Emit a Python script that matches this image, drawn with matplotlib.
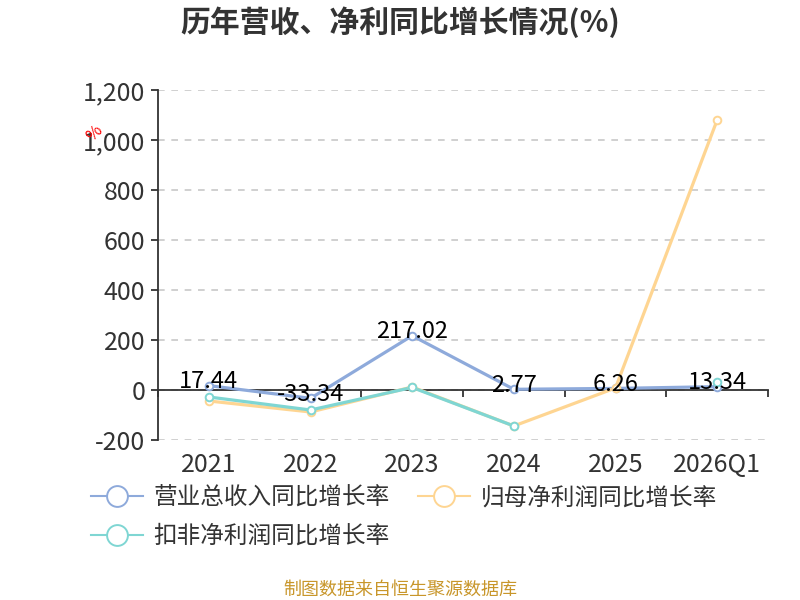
import matplotlib
matplotlib.use("Agg")
import matplotlib.pyplot as plt
import numpy as np

plt.rcParams['font.family'] = ['Noto Sans CJK SC', 'DejaVu Sans']

# ── data ─────────────────────────────────────────────────────────────────────
years = ["2021", "2022", "2023", "2024", "2025", "2026Q1"]
revenue_growth = [17.44, -33.34, 217.02, 2.77, 6.26, 13.34]
parent_profit_growth = [-44, -88, 12, -144, 8, 1080]
deducted_profit_growth = [-28, -80, 10, -144, np.nan, 32]

series_names = ["营业总收入同比增长率", "归母净利润同比增长率", "扣非净利润同比增长率"]
colors = ["#8eaadb", "#fed592", "#7fd6d3"]
yticks = [-200, 0, 200, 400, 600, 800, 1000, 1200]

fig = plt.figure(figsize=(8, 6), dpi=100)
ax = fig.add_axes([0.1975, 0.2667, 0.7625, 0.5833])

x = np.arange(len(years))
all_series = [revenue_growth, parent_profit_growth, deducted_profit_growth]
handles = []
for vals, color, name in zip(all_series, colors, series_names):
    y = np.array(vals, dtype=float)
    ax.plot(x, y, color=color, linewidth=2.3, zorder=3)
    ax.plot(x, y, linestyle="none", marker="o", markersize=5.5,
            markerfacecolor="white", markeredgecolor=color,
            markeredgewidth=1.4, zorder=4)
    h, = ax.plot([], [], color=color, linewidth=1.5, marker="o",
                 markersize=15, markerfacecolor="white",
                 markeredgecolor=color, markeredgewidth=1.4, label=name)
    handles.append(h)

for xi, v in zip(x, revenue_growth):
    ax.annotate(f"{v:.2f}", (xi, v), xytext=(0, 3), textcoords="offset points",
                ha="center", va="center", fontsize=17, color="black", zorder=5)

ax.set_xlim(-0.5, len(years) - 0.5)
ax.set_ylim(-200, 1200)
ax.set_yticks(yticks)
ax.set_yticklabels([f"{t:,}" for t in yticks])
ax.yaxis.grid(True, linestyle=(0, (4, 4)), color="#c8c8c8", linewidth=1.2)
ax.set_axisbelow(True)

for s in ["top", "right"]:
    ax.spines[s].set_visible(False)
ax.spines["left"].set_color("#333333")
ax.spines["left"].set_linewidth(1.3)
ax.spines["bottom"].set_position(("data", 0))
ax.spines["bottom"].set_color("#333333")
ax.spines["bottom"].set_linewidth(1.3)

ax.set_xticks(x)
ax.set_xticklabels(years)
ax.set_xticks(np.arange(len(years) + 1) - 0.5, minor=True)
ax.tick_params(axis="x", which="major", length=0, pad=45, labelsize=18,
               labelcolor="#333333")
ax.tick_params(axis="x", which="minor", length=5, width=1.3, color="#333333",
               direction="out")
ax.tick_params(axis="y", length=5, width=1.3, color="#333333", labelsize=18,
               labelcolor="#333333", pad=4)

fig.text(0.5, 0.963, "历年营收、净利同比增长情况(%)", ha="center", va="center",
         fontsize=21.5, fontweight="bold", color="#333333")
fig.text(95 / 800, 1 - 133 / 600, "%", ha="center", va="center",
         fontsize=12, color="red", rotation=45)

# row-major order: blue, orange on row 1, teal on row 2
leg = fig.legend(handles=[handles[0], handles[2], handles[1]], loc="upper left",
                 bbox_to_anchor=(0.102, 0.205), ncol=2, frameon=False,
                 fontsize=17, handlelength=2.2, handletextpad=0.45,
                 columnspacing=1.2, labelspacing=0.65, borderaxespad=0)
for t in leg.get_texts():
    t.set_color("#333333")

fig.text(0.5, 1 - 590 / 600, "制图数据来自恒生聚源数据库", ha="center",
         va="center", fontsize=13, color="#c8962a")

fig.savefig("out.png", dpi=100)
